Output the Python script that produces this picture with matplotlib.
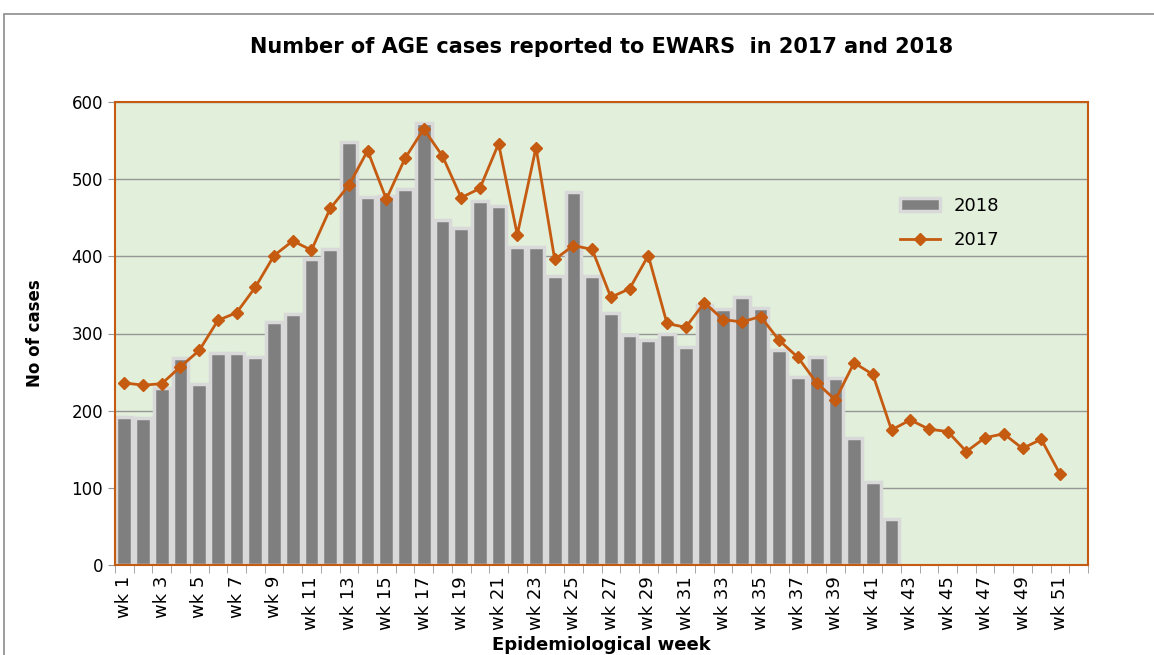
import matplotlib
matplotlib.use('Agg')
import matplotlib.pyplot as plt
import numpy as np
from matplotlib.patches import Rectangle

# weekly AGE cases
weeks = ['wk ' + str(i) for i in range(1, 53)]
cases_2018 = [192, 190, 230, 268, 235, 275, 275, 270, 315, 325,
              397, 410, 548, 477, 478, 487, 573, 447, 437, 472,
              465, 412, 412, 375, 483, 375, 327, 298, 292, 300,
              282, 337, 332, 347, 333, 278, 243, 270, 242, 165,
              108, 59]
cases_2017 = [236, 233, 235, 257, 278, 317, 327, 360, 401, 420,
              408, 462, 492, 537, 474, 527, 565, 530, 476, 488,
              546, 428, 541, 396, 414, 409, 347, 358, 401, 313,
              308, 340, 318, 315, 322, 291, 269, 236, 214, 262,
              247, 175, 188, 176, 173, 147, 165, 170, 151, 163,
              118]

orange = '#c55a11'
fig = plt.figure(figsize=(11.54, 6.55), dpi=100)
# outer chart frame
fig.patches.append(Rectangle((4 / 1154, -0.1), 1.2, 1 - 14 / 655 + 0.1,
                             transform=fig.transFigure, fill=False,
                             edgecolor='#8c8c8c', linewidth=1.2))

ax = fig.add_axes([115 / 1154, 1 - 565 / 655, 973 / 1154, 463 / 655])
ax.set_facecolor('#e2efda')

x18 = np.arange(len(cases_2018))
x17 = np.arange(len(cases_2017))
bars = ax.bar(x18, cases_2018, width=0.84, color='#7f7f7f', edgecolor='#d9d9d9',
              linewidth=2.5, label='2018', zorder=2)
line, = ax.plot(x17, cases_2017, color=orange, linewidth=2, marker='D',
                markersize=6, label='2017', zorder=3)

ax.set_xlim(-0.5, len(weeks) - 0.5)
ax.set_ylim(0, 600)
ax.set_yticks(range(0, 601, 100))
ax.yaxis.grid(True, color='#969696', linewidth=1)
ax.set_axisbelow(True)

ax.set_xticks(np.arange(0, len(weeks), 2))
ax.set_xticklabels(weeks[::2], rotation=90, fontsize=13)
ax.set_xticks(np.arange(-0.5, len(weeks), 1), minor=True)
ax.tick_params(axis='x', which='major', length=0, pad=8)
ax.tick_params(axis='x', which='minor', length=6, color='#969696')
ax.tick_params(axis='y', labelsize=12, length=5, color='#969696')

for s in ax.spines.values():
    s.set_color(orange)
    s.set_linewidth(1.5)

ax.set_title('Number of AGE cases reported to EWARS  in 2017 and 2018',
             fontsize=15, fontweight='bold', pad=35)
ax.set_ylabel('No of cases', fontsize=12, fontweight='bold', labelpad=20)
ax.set_xlabel('Epidemiological week', fontsize=13, fontweight='bold', labelpad=4)

ax.legend([bars, line], ['2018', '2017'], loc='upper left',
          bbox_to_anchor=(0.79, 0.83), frameon=False,
          fontsize=13, handlelength=2.2, labelspacing=0.9)

fig.savefig('out.png', dpi=100)
